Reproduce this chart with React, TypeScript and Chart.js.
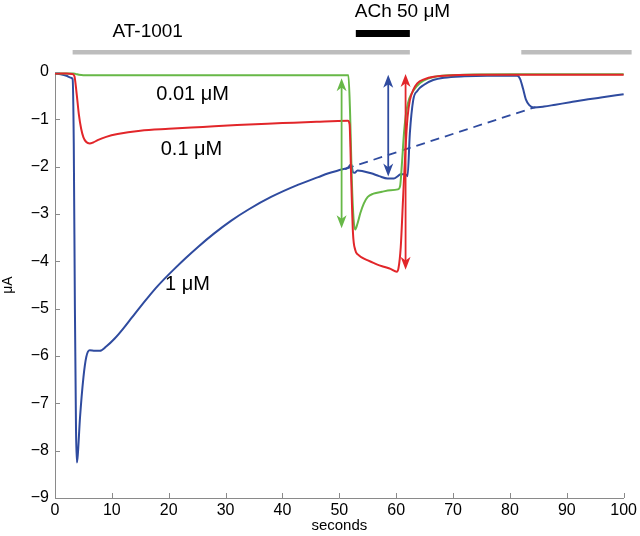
import React, { useEffect, useRef } from "react";
import { Chart, registerables } from "chart.js";

Chart.register(...registerables);

const FONT = "'Liberation Sans', Arial, Helvetica, sans-serif";

// ---- tick values ----
const xTicks = [0, 10, 20, 30, 40, 50, 60, 70, 80, 90, 100];
const yTicks = [0, -1, -2, -3, -4, -5, -6, -7, -8, -9];

// ---- 0.01 µM (green) ----
const greenTime = [0, 2, 3.2, 3.6, 4.2, 5, 6, 10, 20, 30, 40, 48, 51.0, 51.6, 51.9, 52.2, 52.5, 52.8, 53.2, 53.7, 54.3, 55, 56, 57.5, 59, 60.3, 60.7, 61.0, 61.4, 61.8, 62.3, 63.1, 64.2, 65.6, 68, 72, 80, 90, 100];
const greenCurrent = [-0.03, -0.03, -0.03, -0.04, -0.06, -0.07, -0.07, -0.07, -0.07, -0.07, -0.07, -0.07, -0.07, -0.07, -0.9, -2.3, -3.1, -3.33, -3.2, -2.98, -2.78, -2.64, -2.57, -2.53, -2.5, -2.48, -2.4, -1.95, -1.25, -0.82, -0.56, -0.38, -0.23, -0.14, -0.08, -0.06, -0.05, -0.05, -0.05];

// ---- 0.1 µM (red) ----
const redTime = [0, 2, 3.0, 3.4, 3.8, 4.2, 4.6, 5.0, 5.5, 6.1, 6.7, 7.5, 9, 11, 15, 20, 26, 32, 40, 46, 51.5, 51.8, 52.1, 52.4, 52.8, 53.3, 54, 55, 56.7, 58, 59, 60.1, 60.4, 60.8, 61.2, 61.6, 62.0, 62.4, 63, 63.7, 65, 66.6, 70, 75, 80, 90, 100];
const redCurrent = [-0.03, -0.03, -0.04, -0.08, -0.45, -0.9, -1.2, -1.38, -1.48, -1.51, -1.49, -1.44, -1.37, -1.31, -1.24, -1.2, -1.16, -1.12, -1.08, -1.05, -1.03, -1.1, -2.3, -3.4, -3.76, -3.86, -3.92, -3.98, -4.07, -4.12, -4.16, -4.22, -4.15, -3.7, -2.7, -1.7, -0.95, -0.6, -0.38, -0.24, -0.15, -0.1, -0.07, -0.06, -0.06, -0.06, -0.06];

// ---- 1 µM (blue) ----
const blueTime = [0, 1, 2, 2.8, 3.1, 3.3, 3.5, 3.7, 3.85, 4.0, 4.4, 5.0, 5.5, 6.1, 7.0, 7.9, 9.0, 10.5, 12, 13.5, 15, 16.5, 18, 19.5, 21, 23, 25.3, 28, 31, 34.1, 38, 42.8, 46.3, 48.1, 50.4, 51.5, 52.1, 52.4, 52.7, 53.2, 54, 55.6, 57, 58.5, 59.6, 60.3, 60.8, 61.6, 62.0, 62.4, 63.0, 63.7, 64.9, 66.5, 68.4, 72, 76, 81.3, 81.8, 82.3, 82.8, 83.4, 84.2, 86, 88, 90.6, 93, 96, 100];
const blueCurrent = [-0.03, -0.05, -0.08, -0.12, -0.15, -1.5, -5.0, -7.6, -8.25, -8.1, -7.3, -6.45, -6.02, -5.88, -5.89, -5.89, -5.8, -5.63, -5.42, -5.19, -4.96, -4.74, -4.53, -4.34, -4.16, -3.93, -3.68, -3.41, -3.14, -2.9, -2.64, -2.38, -2.22, -2.14, -2.06, -2.02, -1.95, -2.12, -2.13, -2.08, -2.09, -2.14, -2.2, -2.25, -2.25, -2.2, -2.16, -2.16, -2.2, -1.3, -0.59, -0.4, -0.27, -0.17, -0.12, -0.09, -0.08, -0.08, -0.15, -0.35, -0.58, -0.7, -0.75, -0.73, -0.69, -0.64, -0.59, -0.54, -0.47];

// ---- dashed extrapolated baseline for 1 µM ----
const baselineTime = [51.0, 84.5];
const baselineCurrent = [-2.05, -0.74];

// ---- double-headed arrows (time, top current, bottom current) ----
const arrowTime = [50.4, 58.6, 61.65];
const arrowTop = [-0.13, -0.06, -0.04];
const arrowBottom = [-3.3, -2.21, -4.18];

// ---- application bars ----
const at1001Periods = [[3.1, 62.4], [82.0, 101.4]];
const achPeriod = [52.9, 62.4];

const seriesNames = ["0.01 \u03bcM", "0.1 \u03bcM", "1 \u03bcM"];

const BLUE = "#2f4b9f";
const RED = "#e2262a";
const GREEN = "#67b847";
const AXIS = "#8a8a8a";
const arrowColors = [GREEN, BLUE, RED];

function pts(t: number[], v: number[]) {
  return t.map((x, i) => ({ x, y: v[i] }));
}

function drawHead(ctx: CanvasRenderingContext2D, x: number, tip: number, dir: number) {
  const len = 13;
  const w = 5;
  ctx.beginPath();
  ctx.moveTo(x, tip);
  ctx.lineTo(x - w, tip + dir * len);
  ctx.lineTo(x, tip + dir * len * 0.72);
  ctx.lineTo(x + w, tip + dir * len);
  ctx.closePath();
  ctx.fill();
}

const overlay = {
  id: "overlay",
  afterDatasetsDraw(chart: any) {
    const { ctx, chartArea } = chart;
    const xs = chart.scales.x;
    const ys = chart.scales.y;
    ctx.save();

    // inner tick marks
    ctx.strokeStyle = AXIS;
    ctx.lineWidth = 1;
    xTicks.forEach((v) => {
      const px = Math.round(xs.getPixelForValue(v)) + 0.5;
      ctx.beginPath();
      ctx.moveTo(px, chartArea.bottom);
      ctx.lineTo(px, chartArea.bottom - 5);
      ctx.stroke();
    });
    yTicks.forEach((v) => {
      const py = Math.round(ys.getPixelForValue(v)) + 0.5;
      ctx.beginPath();
      ctx.moveTo(chartArea.left, py);
      ctx.lineTo(chartArea.left + 5, py);
      ctx.stroke();
    });

    // arrows
    arrowTime.forEach((t, i) => {
      const x = xs.getPixelForValue(t);
      const top = ys.getPixelForValue(arrowTop[i]);
      const bot = ys.getPixelForValue(arrowBottom[i]);
      ctx.strokeStyle = arrowColors[i];
      ctx.fillStyle = arrowColors[i];
      ctx.lineWidth = 1.8;
      ctx.beginPath();
      ctx.moveTo(x, top + 8);
      ctx.lineTo(x, bot - 8);
      ctx.stroke();
      drawHead(ctx, x, top, 1);
      drawHead(ctx, x, bot, -1);
    });

    // series labels
    ctx.fillStyle = "#000";
    ctx.font = `20px ${FONT}`;
    ctx.textAlign = "center";
    ctx.textBaseline = "middle";
    const lx = [24.2, 24.0, 23.3];
    const ly = [-0.48, -1.63, -4.49];
    seriesNames.forEach((s, i) => {
      ctx.fillText(s, xs.getPixelForValue(lx[i]), ys.getPixelForValue(ly[i]));
    });

    // application bars above the plot
    const top = chartArea.top;
    ctx.fillStyle = "#bdbdbd";
    at1001Periods.forEach(([a, b]) => {
      const x0 = xs.getPixelForValue(a);
      const x1 = xs.getPixelForValue(b);
      ctx.fillRect(x0, top - 22, x1 - x0, 4.5);
    });
    ctx.fillStyle = "#000";
    {
      const x0 = xs.getPixelForValue(achPeriod[0]);
      const x1 = xs.getPixelForValue(achPeriod[1]);
      ctx.fillRect(x0, top - 42, x1 - x0, 7);
    }
    ctx.font = `19px ${FONT}`;
    ctx.textBaseline = "alphabetic";
    ctx.textAlign = "center";
    ctx.fillText("AT-1001", xs.getPixelForValue(16.3), top - 35);
    ctx.fillText("ACh 50 \u03bcM", xs.getPixelForValue(61.1), top - 55);

    ctx.restore();
  },
};

export default function App() {
  const ref = useRef<HTMLCanvasElement | null>(null);

  useEffect(() => {
    if (!ref.current) return;
    const chart = new Chart(ref.current, {
      type: "line",
      data: {
        datasets: [
          {
            label: seriesNames[1],
            data: pts(redTime, redCurrent),
            borderColor: RED,
            borderWidth: 2,
            pointRadius: 0,
            cubicInterpolationMode: "monotone",
            clip: false as any,
          },
          {
            label: seriesNames[0],
            data: pts(greenTime, greenCurrent),
            borderColor: GREEN,
            borderWidth: 2,
            pointRadius: 0,
            cubicInterpolationMode: "monotone",
            clip: false as any,
          },
          {
            label: seriesNames[2],
            data: pts(blueTime, blueCurrent),
            borderColor: BLUE,
            borderWidth: 2,
            pointRadius: 0,
            cubicInterpolationMode: "monotone",
            clip: false as any,
          },
          {
            label: "baseline",
            data: pts(baselineTime, baselineCurrent),
            borderColor: BLUE,
            borderWidth: 1.8,
            borderDash: [9, 6],
            pointRadius: 0,
            clip: false as any,
          },
        ],
      },
      options: {
        responsive: false,
        animation: false,
        devicePixelRatio: 1,
        layout: { padding: { left: 0, top: 72, right: 13, bottom: 0 } },
        plugins: {
          legend: { display: false },
          tooltip: { enabled: false },
        },
        scales: {
          x: {
            type: "linear",
            min: 0,
            max: 100,
            afterFit: (s: any) => {
              s.height = 38;
            },
            afterBuildTicks: (s: any) => {
              s.ticks = xTicks.map((v) => ({ value: v }));
            },
            grid: { display: true, drawOnChartArea: false, drawTicks: false },
            border: { display: true, color: AXIS, width: 1 },
            ticks: {
              color: "#000",
              font: { family: FONT, size: 16 },
              padding: 3,
              maxRotation: 0,
            },
            title: {
              display: true,
              text: "seconds",
              color: "#000",
              font: { family: FONT, size: 15 },
              padding: { top: 0, bottom: 1 },
            },
          },
          y: {
            type: "linear",
            min: -9,
            max: 0,
            afterFit: (s: any) => {
              s.width = 55;
            },
            afterBuildTicks: (s: any) => {
              s.ticks = yTicks.map((v) => ({ value: v }));
            },
            grid: { display: true, drawOnChartArea: false, drawTicks: false },
            border: { display: true, color: AXIS, width: 1 },
            ticks: {
              color: "#000",
              font: { family: FONT, size: 16 },
              padding: 6,
              callback: (v: any) => (Number(v) === 0 ? "0" : "\u2212" + Math.abs(Number(v))),
            },
            title: {
              display: true,
              text: "\u03bcA",
              color: "#000",
              font: { family: FONT, size: 14 },
              padding: { top: 0, bottom: 0 },
            },
          },
        },
      } as any,
      plugins: [overlay],
    });
    return () => chart.destroy();
  }, []);

  return (
    <div style={{ position: "fixed", left: 0, top: 0, width: 640, height: 536, background: "#fff" }}>
      <canvas ref={ref} width={640} height={536} style={{ width: 640, height: 536 }} />
    </div>
  );
}
